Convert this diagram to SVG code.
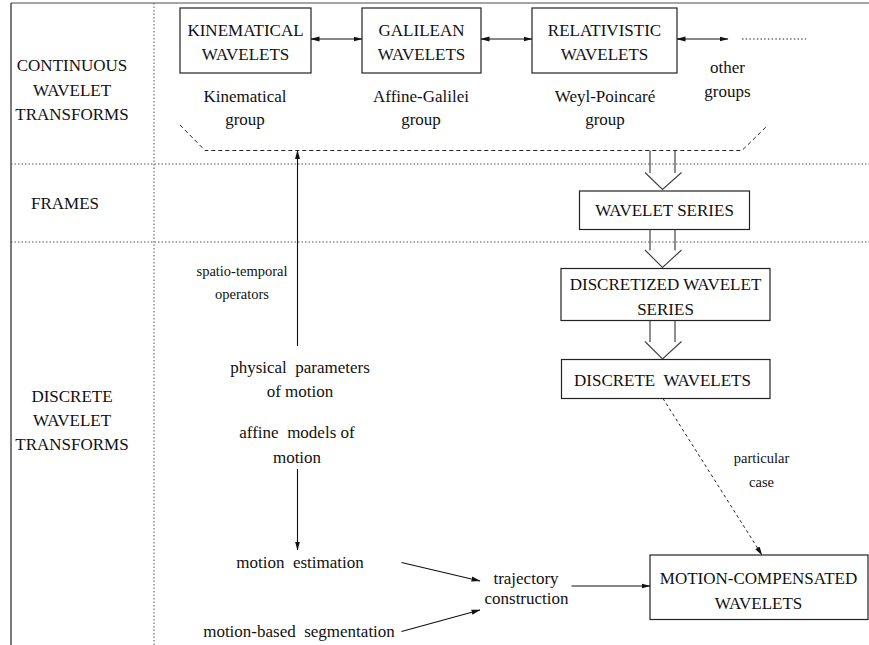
<svg xmlns="http://www.w3.org/2000/svg" width="869" height="645" viewBox="0 0 869 645">
<style>
text{font-family:"Liberation Serif","Times New Roman",serif;fill:#111;text-anchor:middle;white-space:pre}
.t{font-size:17px}
.s{font-size:14.5px}
.box{fill:#fff;stroke:#222;stroke-width:1.2}
.ln{stroke:#111;stroke-width:1.1;fill:none}
.sep{stroke:#555;stroke-width:1;stroke-dasharray:1.5 2;fill:none}
.dash{stroke:#222;stroke-width:1;stroke-dasharray:4 3;fill:none}
.dot{stroke:#222;stroke-width:1;stroke-dasharray:3 3;fill:none}
.hol{stroke:#444;stroke-width:1.2;fill:none}
</style>
<defs>
<marker id="ah" markerWidth="9" markerHeight="6" refX="8.5" refY="3" orient="auto-start-reverse" markerUnits="userSpaceOnUse">
<path d="M0,0.5 L9,3 L0,5.5 Z" fill="#111"/>
</marker>
</defs>
<rect width="869" height="645" fill="#fff"/>
<g id="frame">
<line x1="11" y1="3" x2="869" y2="3" stroke="#888" stroke-width="1.5"/>
<line x1="11" y1="3" x2="11" y2="645" stroke="#222" stroke-width="1.2"/>
<line class="sep" x1="154" y1="3" x2="154" y2="645"/>
<line class="sep" x1="11" y1="164" x2="869" y2="164"/>
<line class="sep" x1="11" y1="242" x2="869" y2="242"/>
</g>
<g id="section-labels">
<text class="t" x="72" y="71">CONTINUOUS</text>
<text class="t" x="72" y="96">WAVELET</text>
<text class="t" x="72" y="120">TRANSFORMS</text>
<text class="t" x="65" y="209">FRAMES</text>
<text class="t" x="72" y="402">DISCRETE</text>
<text class="t" x="72" y="426">WAVELET</text>
<text class="t" x="72" y="450">TRANSFORMS</text>
</g>
<g id="kinematical">
<rect class="box" x="180" y="8" width="131" height="65"/>
<text class="t" x="245.5" y="35.5">KINEMATICAL</text>
<text class="t" x="245.5" y="59.5">WAVELETS</text>
<text class="t" x="245" y="102">Kinematical</text>
<text class="t" x="245" y="125">group</text>
</g>
<g id="galilean">
<rect class="box" x="362" y="8" width="119" height="65"/>
<text class="t" x="421.5" y="35.5">GALILEAN</text>
<text class="t" x="421.5" y="59.5">WAVELETS</text>
<text class="t" x="421" y="102">Affine-Galilei</text>
<text class="t" x="421" y="125">group</text>
</g>
<g id="relativistic">
<rect class="box" x="532" y="8" width="145" height="65"/>
<text class="t" x="604.5" y="35.5">RELATIVISTIC</text>
<text class="t" x="604.5" y="59.5">WAVELETS</text>
<text class="t" x="605" y="102">Weyl-Poincaré</text>
<text class="t" x="605" y="125">group</text>
</g>
<g id="other">
<text class="t" x="727.5" y="73">other</text>
<text class="t" x="727.5" y="97">groups</text>
</g>
<g id="wavelet-series">
<rect class="box" x="579.5" y="191" width="170" height="38.5"/>
<text class="t" x="664.5" y="216">WAVELET SERIES</text>
</g>
<g id="discretized">
<rect class="box" x="561" y="268.5" width="209" height="52"/>
<text class="t" x="665.5" y="289.5">DISCRETIZED WAVELET</text>
<text class="t" x="665.5" y="314.5">SERIES</text>
</g>
<g id="discrete">
<rect class="box" x="561.5" y="359.5" width="208.5" height="39"/>
<text class="t" x="662.5" y="386">DISCRETE  WAVELETS</text>
</g>
<g id="motion-compensated">
<rect class="box" x="650" y="555" width="218" height="64.5"/>
<text class="t" x="758.5" y="583.5">MOTION-COMPENSATED</text>
<text class="t" x="758.5" y="608.5">WAVELETS</text>
</g>
<g id="labels">
<text class="s" x="242" y="276">spatio-temporal</text>
<text class="s" x="242" y="299">operators</text>
<text class="t" x="300" y="373">physical  parameters</text>
<text class="t" x="300" y="397">of motion</text>
<text class="t" x="297" y="438">affine  models of</text>
<text class="t" x="297" y="462.5">motion</text>
<text class="t" x="300" y="568">motion  estimation</text>
<text class="t" x="299" y="636.5">motion-based  segmentation</text>
<text class="t" x="526" y="584">trajectory</text>
<text class="t" x="526.5" y="603.5">construction</text>
<text class="s" x="761.5" y="463">particular</text>
<text class="s" x="761.5" y="486.5">case</text>
</g>
<g id="connectors">
<line class="ln" x1="311" y1="39" x2="362" y2="39" marker-start="url(#ah)" marker-end="url(#ah)"/>
<line class="ln" x1="481" y1="39" x2="532" y2="39" marker-start="url(#ah)" marker-end="url(#ah)"/>
<line class="ln" x1="677" y1="39" x2="728" y2="39" marker-start="url(#ah)" marker-end="url(#ah)"/>
<line x1="742" y1="39" x2="806" y2="39" stroke="#222" stroke-width="1" stroke-dasharray="1.5 2.2"/>
<path class="dash" d="M180,125 L205,150.5 L742,150.5 L768,125"/>
<line class="ln" x1="297.5" y1="346" x2="297.5" y2="150.5" marker-end="url(#ah)"/>
<line class="ln" x1="297.5" y1="469" x2="297.5" y2="550" marker-end="url(#ah)"/>
<path class="hol" d="M650,150.5 V173 M675,150.5 V173 M645,172.5 L662.5,189.5 L681.5,172.5"/>
<path class="hol" d="M650,229.5 V250.5 M675,229.5 V250.5 M645,250 L662.5,267.5 L681.5,250"/>
<path class="hol" d="M650,320.5 V342 M675,320.5 V342 M645,341.5 L662.5,359 L681.5,341.5"/>
<line class="dot" x1="663" y1="398.5" x2="762" y2="555" marker-end="url(#ah)"/>
<line class="ln" x1="401.5" y1="562.5" x2="480" y2="581" marker-end="url(#ah)"/>
<line class="ln" x1="401.5" y1="631.5" x2="480" y2="610" marker-end="url(#ah)"/>
<line class="ln" x1="571.5" y1="586" x2="650" y2="586" marker-end="url(#ah)"/>
</g>
</svg>
